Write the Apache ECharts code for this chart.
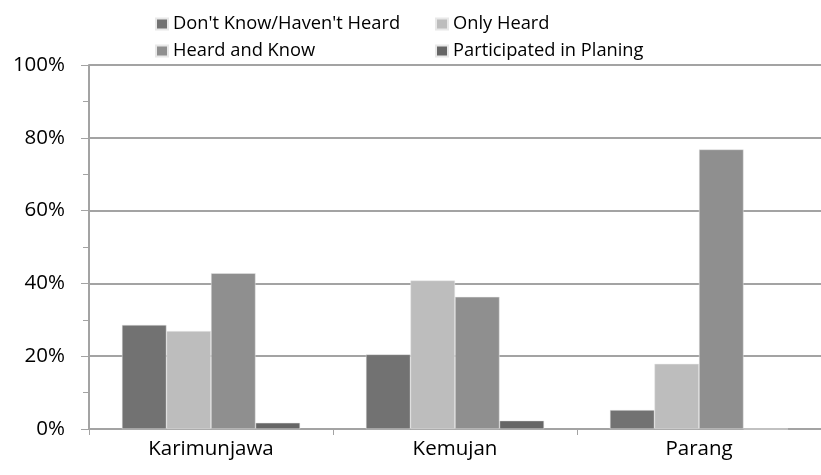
<!DOCTYPE html>
<html><head><meta charset="utf-8">
<script src="https://cdn.jsdelivr.net/npm/echarts@6/dist/echarts.min.js"></script>
<style>html,body{margin:0;padding:0;background:#fff}#c{width:821px;height:475px}</style>
</head><body><div id="c"></div>
<script>
const categories = ['Karimunjawa', 'Kemujan', 'Parang'];
const seriesNames = ["Don't Know/Haven't Heard", 'Only Heard', 'Heard and Know', 'Participated in Planing'];
const dontKnow = [28.6, 20.5, 5.2];
const onlyHeard = [26.9, 40.8, 17.9];
const heardKnow = [42.8, 36.3, 76.8];
const participated = [1.7, 2.3, 0];
const yTicks = [0, 20, 40, 60, 80, 100];

const colors = ['#727272', '#bdbdbd', '#8f8f8f', '#666666'];
const values = [dontKnow, onlyHeard, heardKnow, participated];
const FONT = 'Open Sans';
const legendText = { fontSize: 18.3, lineHeight: 18, color: '#000', fontFamily: FONT, padding: [0, 0, 0, 0] };
const chart = echarts.init(document.getElementById('c'));
chart.setOption({
  animation: false,
  textStyle: { fontFamily: FONT },
  legend: [
    { data: [seriesNames[0], seriesNames[2]], orient: 'vertical', left: 150, top: 10, itemWidth: 12, itemHeight: 11, itemGap: 9, textStyle: legendText, icon: 'rect' },
    { data: [seriesNames[1], seriesNames[3]], orient: 'vertical', left: 430, top: 10, itemWidth: 12, itemHeight: 11, itemGap: 9, textStyle: legendText, icon: 'rect' }
  ],
  grid: { left: 89, right: -12, top: 65, bottom: 46 },
  xAxis: {
    type: 'category', data: categories,
    axisLine: { lineStyle: { color: '#a3a3a3', width: 2 } },
    axisTick: { show: true, length: 6, lineStyle: { color: '#a3a3a3', width: 1 } },
    axisLabel: { color: '#000', fontSize: 20.5, margin: 10, fontFamily: FONT }
  },
  yAxis: {
    type: 'value', min: 0, max: 100, interval: 20,
    axisLine: { show: true, lineStyle: { color: '#a3a3a3', width: 2 } },
    axisTick: { show: true, length: 8, lineStyle: { color: '#a3a3a3' } },
    minorTick: { show: true, splitNumber: 2, length: 6, lineStyle: { color: '#a3a3a3' } },
    splitLine: { lineStyle: { color: '#a3a3a3', width: 2 } },
    axisLabel: { color: '#000', fontSize: 20.5, margin: 24, formatter: v => yTicks.includes(v) ? v + '%' : '', fontFamily: FONT }
  },
  series: seriesNames.map((n, i) => ({
    name: n, type: 'bar', data: values[i],
    barGap: 0, barCategoryGap: '27%',
    itemStyle: { color: colors[i], borderColor: '#e8e8e8', borderWidth: 0.5 }
  }))
});
</script></body></html>
